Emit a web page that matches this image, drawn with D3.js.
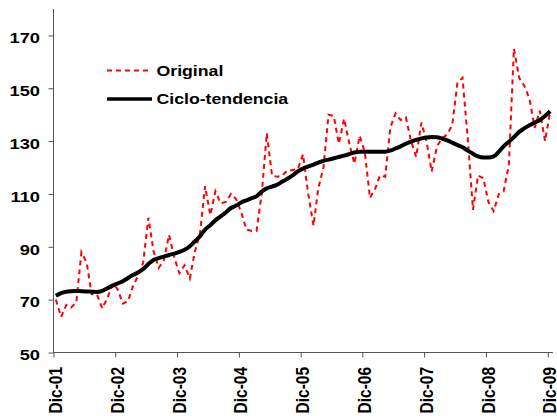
<!DOCTYPE html>
<html><head><meta charset="utf-8">
<script src="https://cdn.jsdelivr.net/npm/d3@7"></script>
<style>body{margin:0;background:#fff}svg{display:block}</style>
</head><body><svg id="c" width="557" height="416"></svg>
<script>
// monthly data, Dic-01 .. Dic-09
const startYear = 2001, startMonth = 11;
const original = [70,63.5,68,67,69,88,84,72,72,66.7,70.5,76,74,68.5,69.5,75,79,84,101,88.5,82,85,94.5,86,
 80,83,78,88,95,113,102,111,106.5,107,110,108,103,96.5,96,96,110,133,117,116.5,117,119,119,119.5,
 125,110,98,112,120,140,139.5,129,138.5,129,121.5,132,126,108.5,112,117,116.5,135,140.5,138,139,130,124,137,
 130,118.5,128,131,132.5,136,152,154,131,104,117,116,107,103.5,110,111,121,165,154,151,146,135,141.5,130,141];
const trend = [71.5,72.5,73,73.2,73.3,73.2,73.1,73,72.9,73.3,74.3,75.3,76.1,77,78.2,79.3,80.3,81.6,83.5,85,85.7,86.3,86.9,87.4,
 88.1,88.9,90.2,92,94,96.5,98.2,100,101.5,103,104.7,105.6,106.8,107.6,108.4,109.1,110.9,112.1,112.8,113.5,114.7,115.8,117,118.6,
 119.6,120.4,121.1,121.9,122.5,123,123.5,124,124.5,125.1,125.7,126,126,126,126,126,126,126.4,127.2,128,129,129.8,130.5,131,
 131.4,131.6,131.5,131,130.3,129.4,128.5,127.7,126.4,125.2,124.2,123.8,123.8,124.2,126,128,129.8,131.5,133.5,134.8,136,137,138,139.5,141.3];
const tickLabels = ["Dic-01","Dic-02","Dic-03","Dic-04","Dic-05","Dic-06","Dic-07","Dic-08","Dic-09"];
const yTicks = [50,70,90,110,130,150,170];
const seriesNames = ["Original","Ciclo-tendencia"];

const dates = original.map((d,i)=>new Date(startYear, startMonth + i, 15));
const tickDates = tickLabels.map((d,i)=>new Date(startYear + i, 11, 1));

const svg = d3.select("#c");
const x = d3.scaleTime().domain([new Date(2001,11,1), new Date(2010,0,1)]).range([53.5, 553]);
const y = d3.scaleLinear().domain([50,180]).range([352.5, 9]);
const font = "'Liberation Sans', Arial, sans-serif";
const sx = 1.18;

// y axis
const ya = svg.append("g").attr("transform","translate(53.5,0)")
  .call(d3.axisLeft(y).tickValues(yTicks).tickSize(5).tickPadding(7).tickFormat(d3.format("d")));
ya.select(".domain").attr("stroke","#555").attr("d","M0,9V352.5");
ya.selectAll(".tick line").attr("stroke","#555");
ya.selectAll("text").attr("font-family",font).attr("font-weight","bold").attr("font-size","15.5px").attr("fill","#000")
  .attr("x",0).attr("dy","0.47em").attr("transform",`translate(-13.5,0) scale(${sx},1)`);

// x axis
const xa = svg.append("g").attr("transform","translate(0,352.5)")
  .call(d3.axisBottom(x).tickValues(tickDates).tickSize(5).tickFormat((d,i)=>tickLabels[i]));
xa.select(".domain").attr("stroke","#555").attr("d","M53.5,0H553");
xa.selectAll(".tick line").attr("stroke","#555");
xa.selectAll("text").attr("font-family",font).attr("font-weight","bold").attr("font-size","15.5px").attr("fill","#000")
  .attr("transform",`rotate(-90) scale(1,${sx})`).attr("text-anchor","end").attr("x",-14.5).attr("y",0).attr("dy","0.44em");

const line = d3.line().x((d,i)=>x(dates[i])).y(d=>y(d));
svg.append("path").datum(original).attr("d",line).attr("fill","none")
  .attr("stroke","#ff0000").attr("stroke-width",2).attr("stroke-dasharray","5,4");
svg.append("path").datum(trend).attr("d",d3.line().x((d,i)=>x(dates[i])).y(d=>y(d)).curve(d3.curveMonotoneX))
  .attr("fill","none").attr("stroke","#000").attr("stroke-width",4).attr("stroke-linejoin","round");

// legend
const lg = svg.append("g");
const items = [{n:seriesNames[0],c:"#ff0000",w:2,da:"5,4",yy:70.5},{n:seriesNames[1],c:"#000",w:3.5,da:null,yy:99}];
items.forEach(it=>{
  lg.append("line").attr("x1",107).attr("x2",152).attr("y1",it.yy).attr("y2",it.yy)
    .attr("stroke",it.c).attr("stroke-width",it.w).attr("stroke-dasharray",it.da);
  lg.append("text").attr("transform",`translate(156.5,${it.yy}) scale(${sx},1)`).attr("dy","0.36em").text(it.n)
    .attr("font-family",font).attr("font-weight","bold").attr("font-size","15px");
});
</script></body></html>
